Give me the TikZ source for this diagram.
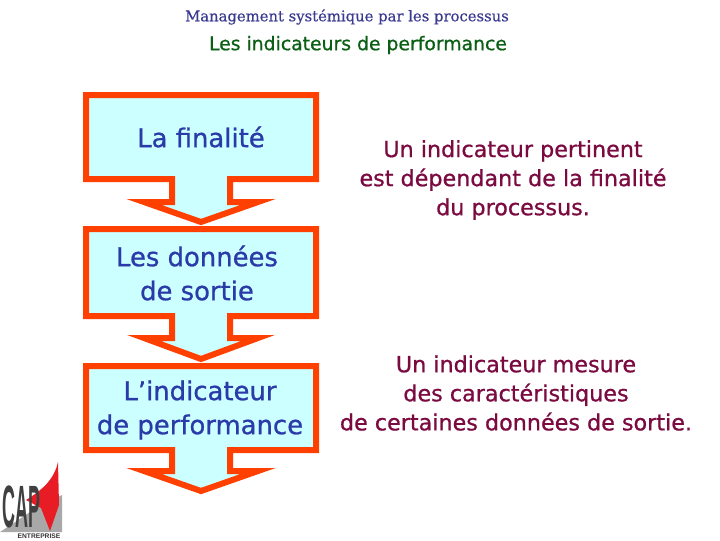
\documentclass[tikz,border=0pt]{standalone}
\usepackage{fontspec}
\setmainfont[FakeBold=0.8]{DejaVu Sans}
\newfontfamily\plainfont[FakeBold=0.8]{DejaVu Sans}
\newfontfamily\titlefont[FakeBold=0.4]{DejaVu Serif}
\newfontfamily\logofont{Liberation Sans}
\usepackage{tikz}
\definecolor{boxline}{HTML}{FF4000}
\definecolor{boxfill}{HTML}{CCFFFF}
\definecolor{boxtext}{HTML}{2A3AA8}
\definecolor{notetext}{HTML}{7A0A40}
\definecolor{headgreen}{HTML}{0A5F14}
\definecolor{headblue}{HTML}{3A3A90}
\definecolor{logogray}{HTML}{A8A8A8}
\definecolor{logored}{HTML}{E81C24}
\tikzstyle{stepshape} = [draw=boxline, fill=boxfill, line width=4.5pt, miter limit=10]
\tikzstyle{boxlabel} = [text=boxtext, align=center, font=\plainfont\fontsize{19.4}{25.5}\selectfont]
\tikzstyle{notelabel} = [text=notetext, align=center, font=\plainfont\fontsize{16.7}{21.8}\selectfont]
% one box with its arrow: top, bottom, top of head, apex
\newcommand{\stepbox}[4]{\draw [stepshape] (86,#1) -- (316,#1) -- (316,#2) -- (230,#2) -- (230,#3) -- (258,#3) -- (201,#4) -- (144,#3) -- (172,#3) -- (172,#2) -- (86,#2) -- cycle;}

\begin{document}
\begin{tikzpicture}[x=0.75pt, y=-0.75pt]
\useasboundingbox (0,0) rectangle (720,540);

\node (title) [text=headblue, font=\titlefont\fontsize{11.1}{14}\selectfont] at (347,17) {Management systémique par les processus};
\node (subtitle) [text=headgreen, font=\plainfont\fontsize{14.1}{16}\selectfont] at (358,45) {Les indicateurs de performance};

\stepbox{95}{179}{202}{222}
\stepbox{229}{316}{338}{359}
\stepbox{366}{450}{471}{491}

\node (finalite) [boxlabel] at (201,137) {La finalité};
\node (donnees) [boxlabel] at (197,273) {Les données\\de sortie};
\node (indicateur) [boxlabel] at (200,410) {L’indicateur\\de performance};

\node (pertinent) [notelabel] at (513,180) {Un indicateur pertinent\\est dépendant de la finalité\\du processus.};
\node (mesure) [notelabel] at (516,393) {Un indicateur mesure\\des caractéristiques\\de certaines données de sortie.};

% logo
\fill [logogray] (0,532) -- (30,512) -- (62,495) -- (62,532) -- cycle;
\fill [logored] (58,462) .. controls (54,480) and (42,490) .. (26,500) -- (41,508) -- (50,531) -- (59,505) -- cycle;
\node (cap) [text=black!75, font=\logofont\bfseries\fontsize{32}{32}\selectfont, xscale=0.42, yscale=1.4, inner sep=0] at (21.5,507) {CAP};
\node (entreprise) [text=black!80, font=\logofont\bfseries\fontsize{5}{5}\selectfont, inner sep=0] at (39,536) {ENTREPRISE};
\end{tikzpicture}
\end{document}
